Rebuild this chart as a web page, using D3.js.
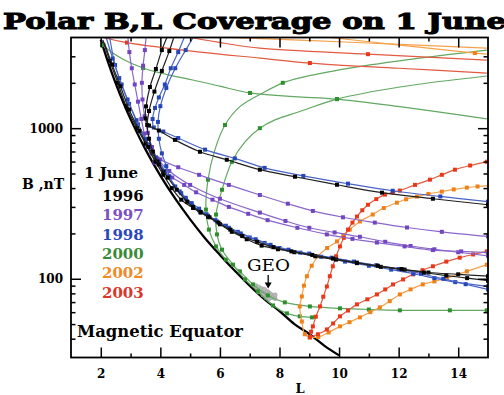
<!DOCTYPE html>
<html><head><meta charset="utf-8">
<script src="https://cdn.jsdelivr.net/npm/d3@7"></script>
<style>
html,body{margin:0;padding:0;background:#fff;}
svg{display:block;}
</style></head><body>
<svg id="chart" width="504" height="395"></svg>
<script>
// Axis tick values
const xMajor = [2, 4, 6, 8, 10, 12, 14];
const xMinor = [3, 5, 7, 9, 11, 13];
const yMajor = [100, 1000];
const yMinor = [40, 50, 60, 70, 80, 90, 200, 300, 400, 500, 600, 700, 800, 900, 2000, 3000];

// Magnetic equator (L, B in nT)
const equatorL = [2, 2.25, 2.5, 2.75, 3, 3.5, 4, 4.5, 5, 5.5, 6, 6.5, 7, 7.5, 8, 8.5, 9, 9.5, 10];
const equatorB = [3875, 2722, 1984, 1490, 1148, 723, 484, 340, 248, 186, 144, 113, 90, 73, 61, 50, 43, 36, 31];

// Orbit tracks: [L, B, marker?]  (third value 0 = no marker at that point)
// 1996
const y96a = [[4.22,4000,0],[4.05,3300],[3.85,2470],[3.65,1877],[3.52,1395],[3.5,1160],[3.62,1040],[3.95,965],[4.49,836],[5.33,697],[6.23,617],[7.34,530],[8.52,476],[9.93,421],[11.44,373],[13.15,340],[15,310]];
const y96b = [[4.45,4000,0],[4.3,3250],[4.05,2400],[3.8,1750],[3.62,1300],[3.56,1050],[3.62,850],[3.75,700],[3.9,600],[4.1,510]];
const y96c = [[2.07,3850,0],[2.3,2800],[2.57,2000],[2.85,1400],[3.22,1000],[3.5,790],[3.83,600],[4.1,490],[4.38,400],[4.7,335],[5.1,295],[5.35,275],[5.6,258],[6.0,230],[6.4,205],[6.9,183],[7.4,166],[7.95,157],[8.5,150],[9.2,141],[9.9,134],[10.6,127],[11.4,120],[12.2,115],[13.0,110],[14.0,107],[15.0,104]];
const y96d = [[2.12,3700,0],[2.38,2650],[2.66,1900],[2.95,1330],[3.3,960],[3.6,750],[3.95,575],[4.25,470],[4.55,390],[4.9,325],[5.1,300],[5.35,278],[5.65,256],[5.95,236],[6.35,212],[6.75,192],[7.25,176],[7.8,162],[8.4,152],[9.1,144],[9.8,136],[10.6,128],[11.3,122],[12.1,116],[12.85,110],[13.6,105],[14.3,101],[15.0,97]];
// 1997
const y97a = [[2.91,4000,0],[2.96,3200],[3.04,2500],[3.14,1950],[3.25,1500],[3.36,1150],[3.46,920],[3.56,760],[3.7,680],[4.0,620],[4.6,550],[5.3,490],[6.3,420],[7.34,360],[8.28,315],[9.12,282],[10.13,256],[11.2,236],[12.28,219],[13.45,205],[15,191]];
const y97b = [[3.52,4000,0],[3.48,3300],[3.42,2600],[3.38,2000],[3.4,1550],[3.47,1200],[3.58,930],[3.72,750],[3.9,630],[4.3,520],[5.0,420],[6.0,340],[7.34,275],[8.2,242],[9.0,218],[9.85,203],[10.7,190],[11.55,176],[12.4,165],[13.2,157],[14.0,150],[15,142]];
const y97c = [[3.8,590],[4.1,520],[4.4,470],[4.8,420],[5.2,375],[5.75,335],[6.3,300],[6.95,270],[7.6,245],[8.6,218],[9.59,197],[10.45,184],[11.27,174],[12.2,164],[13.15,155],[14.1,152],[15,149]];
// 1998
const y98a = [[4.8,4000,0],[4.6,3200],[4.35,2500],[4.15,1950],[3.95,1600],[3.82,1363],[3.74,1150],[3.78,1010],[4.1,950],[4.6,860],[5.5,720],[6.5,630],[7.5,545],[8.8,482],[10.3,428],[11.8,384],[13.4,352],[15,325]];
const y98b = [[5.1,4000,0],[4.85,3300],[4.5,2500],[4.2,1850],[4.0,1400],[3.92,1100],[3.95,850],[4.05,680],[4.2,560],[4.3,480]];
const y98c = [[2.3,4000,0],[2.48,2625],[2.7,1950],[2.95,1450],[3.25,1060],[3.6,780],[3.95,600],[4.3,470],[4.65,380],[4.85,345],[5.05,318],[5.3,292],[5.55,268],[5.85,245],[6.2,225],[6.6,205],[7.0,188],[7.5,173],[8.0,160],[8.7,149],[9.4,140],[10.2,130],[11.0,122],[11.75,115],[12.5,108],[13.2,101],[13.9,95],[15,89]];
const y98d = [[2.18,4000,0],[2.4,2900],[2.62,2150],[2.9,1550],[3.2,1130],[3.5,850],[3.85,640],[4.15,520],[4.5,410],[4.7,370],[4.85,340],[5.05,310],[5.3,285],[5.6,262],[5.9,240],[6.3,218],[6.7,200],[7.2,183],[7.7,168],[8.3,156],[9.0,147],[9.75,138],[10.5,130],[11.25,123],[12.0,116],[12.75,108],[13.5,100],[14.25,92],[15,85]];
// 2000
const y00a = [[2.04,3565],[2.7,2900,0],[3.42,2507],[4.3,2250,0],[5.09,2089,0],[6.0,1900,0],[7.01,1713],[8.5,1620,0],[9.93,1560],[12.04,1390,0],[13.5,1270,0],[14.96,1152,0]];
const y00b = [[14.96,3301,0],[12.71,2921,0],[10.36,2507,0],[8.68,2160,0],[8.11,2000],[7.51,1745,0],[6.67,1390,0],[6.17,1050],[5.83,718,0],[5.6,455],[5.53,288],[5.63,212],[5.87,164],[6.2,134],[6.67,112],[7.11,91.7],[7.61,77.5],[8.18,69.7],[9.02,65.5],[10.03,63.6],[11.0,62.5],[12.04,61.7],[13.72,61.7],[14.96,61.7]];
const y00c = [[14.96,2220,0],[12.04,1877,0],[9.93,1560],[8.68,1290,0],[7.85,1135,0],[7.34,1000],[6.84,812,0],[6.4,598],[6.07,390],[5.87,267],[5.9,197],[6.07,156],[6.44,124],[6.84,99],[7.27,82.4],[7.78,66.5],[8.25,58.9],[8.68,56.3],[9.09,55.4]];
// 2002
const y02a = [[9.02,40.9],[8.85,42.8],[8.75,52],[8.68,65.5],[8.75,76.3],[8.82,90],[8.92,104],[9.08,122],[9.29,141],[9.6,160],[9.93,177],[10.14,195],[10.36,212],[10.7,240],[11.13,267],[11.5,295],[11.94,320],[12.25,337],[12.61,351],[13.0,366],[13.45,379],[13.85,392],[14.29,403],[14.65,410],[15,415,0]];
const y02b = [[9.02,40.9],[9.3,41],[9.65,44],[10.03,48.3],[10.35,51.5],[10.7,55.4],[11.05,60],[11.37,64.6],[11.7,71],[12.04,78.7],[12.4,85],[12.81,91.7],[13.2,96],[13.62,101],[14.29,112],[14.96,124]];
const y02c = [[6.34,4000,0],[8.68,3845,0],[12.04,3600,0],[14.96,3404,0]];
const y02d = [[9.69,4000,0],[12.04,3565,0],[14.56,3153],[14.96,3100,0]];
// 2003
const y03a = [[9.02,40.9],[9.06,44.5],[9.12,48.3],[9.22,56],[9.36,65.5],[9.47,76],[9.59,88.9],[9.69,104],[9.79,121],[9.9,141],[10.03,164],[10.16,187],[10.3,212],[10.45,236],[10.6,259],[10.78,285],[10.97,310],[11.25,338],[11.54,362],[11.8,375],[12.04,385],[12.55,420],[13.05,455],[13.45,490],[13.89,530],[14.4,565],[14.96,598]];
const y03b = [[9.02,40.9],[9.29,42.8],[9.59,46.1],[9.8,50.5],[10.03,56.3],[10.3,61.5],[10.6,67.6],[10.95,73],[11.27,78.7],[11.55,85],[11.81,91.7],[12.15,99],[12.48,107],[12.8,114],[13.15,121],[13.6,130],[14.05,138],[14.5,145],[14.96,152]];
const y03c = [[5.0,4000,0],[6.2,3650,0],[7.34,3404,0],[10.97,3100],[14.96,2834,0]];
const y03d = [[2.07,4000,0],[2.88,3700],[5.33,3200,0],[7.34,2921,0],[9.02,2707],[12,2500,0],[14.96,2323,0]];

// Geosynchronous orbit region
const geoL = [7.2,7.25,7.3,7.35,7.4,7.4,7.45,7.5,7.5,7.55,7.6,7.6,7.65,7.7,7.7,7.75,7.8,7.85,7.3,7.45,7.55,7.65,7.85];
const geoB = [90,86,88,84,86,81,83,80,85,78,82,77,80,76,79,75,77,74,82,78,75,74,78];
const geoArrowL = [7.62, 7.62];
const geoArrowB = [106, 86];

// Legend entries
const years = ["1996", "1997", "1998", "2000", "2002", "2003"];

const style = {
  "1996": {line: "#222", mark: "#000", text: "#000"},
  "1997": {line: "#8a66cc", mark: "#7246c0", text: "#7a50c2"},
  "1998": {line: "#4a64c8", mark: "#2446b8", text: "#2a48bc"},
  "2000": {line: "#62a862", mark: "#2f8f2f", text: "#3a8a3a"},
  "2002": {line: "#f4a24a", mark: "#f08018", text: "#f08a28"},
  "2003": {line: "#e25a40", mark: "#e8381a", text: "#d8382a"}
};

const trackSets = [
  {year: "2000", tracks: [y00a, y00b, y00c]},
  {year: "2002", tracks: [y02a, y02b, y02c, y02d]},
  {year: "2003", tracks: [y03a, y03b, y03c, y03d]},
  {year: "1997", tracks: [y97a, y97b, y97c]},
  {year: "1998", tracks: [y98a, y98b, y98c, y98d]},
  {year: "1996", tracks: [y96a, y96b, y96c, y96d]}
];

const svg = d3.select("#chart");
const x = d3.scaleLinear().domain([1, 15]).range([71, 488]);
const y = d3.scaleLog().domain([30, 4000]).range([357.5, 37.5]);

svg.append("defs").append("clipPath").attr("id", "plotClip")
  .append("rect").attr("x", 71).attr("y", 37.5).attr("width", 417).attr("height", 320);

const plot = svg.append("g").attr("clip-path", "url(#plotClip)");

// Magnetic equator
const eqPts = equatorL.map((l, i) => [l, equatorB[i]]);
const line = d3.line().x(d => x(d[0])).y(d => y(d[1])).curve(d3.curveCatmullRom.alpha(0.5));
plot.append("path").attr("d", line(eqPts)).attr("fill", "none")
  .attr("stroke", "#000").attr("stroke-width", 2.3);

// GEO cloud
plot.selectAll("circle.geo").data(geoL.map((l, i) => [l, geoB[i]])).enter()
  .append("circle").attr("class", "geo")
  .attr("cx", d => x(d[0])).attr("cy", d => y(d[1])).attr("r", 2.2)
  .attr("fill", "#b8b8b8").attr("stroke", "#999").attr("stroke-width", 0.5);

// Orbit tracks
trackSets.forEach(set => {
  const st = style[set.year];
  set.tracks.forEach(tr => {
    plot.append("path").attr("d", line(tr)).attr("fill", "none")
      .attr("stroke", st.line).attr("stroke-width", 1.2);
    plot.selectAll(null).data(tr.filter(p => p[2] !== 0)).enter()
      .append("rect")
      .attr("x", d => x(d[0]) - 2).attr("y", d => y(d[1]) - 2)
      .attr("width", 4).attr("height", 4).attr("fill", st.mark);
  });
});

// Axes with inward ticks
function styleAxis(g) {
  g.selectAll("path.domain").remove();
  g.selectAll("line").attr("stroke", "#000").attr("stroke-width", 1.5);
  g.selectAll("text").attr("font-family", "'DejaVu Serif', serif")
    .attr("font-weight", "bold").attr("font-size", 12).attr("fill", "#000");
}
svg.append("g").attr("transform", "translate(0,357.5)")
  .call(d3.axisBottom(x).tickValues(xMajor).tickSize(-10).tickPadding(12).tickFormat(d3.format("d"))).call(styleAxis);
svg.append("g").attr("transform", "translate(0,357.5)")
  .call(d3.axisBottom(x).tickValues(xMinor).tickSize(-4).tickFormat("")).call(styleAxis);
svg.append("g").attr("transform", "translate(0,37.5)")
  .call(d3.axisTop(x).tickValues(xMajor).tickSize(-10).tickFormat("")).call(styleAxis);
svg.append("g").attr("transform", "translate(0,37.5)")
  .call(d3.axisTop(x).tickValues(xMinor).tickSize(-4).tickFormat("")).call(styleAxis);
svg.append("g").attr("transform", "translate(71,0)")
  .call(d3.axisLeft(y).tickValues(yMajor).tickSize(-10).tickPadding(8).tickFormat(d3.format("d"))).call(styleAxis);
svg.append("g").attr("transform", "translate(71,0)")
  .call(d3.axisLeft(y).tickValues(yMinor).tickSize(-4.5).tickFormat("")).call(styleAxis);
svg.append("g").attr("transform", "translate(488,0)")
  .call(d3.axisRight(y).tickValues(yMajor).tickSize(-10).tickFormat("")).call(styleAxis);
svg.append("g").attr("transform", "translate(488,0)")
  .call(d3.axisRight(y).tickValues(yMinor).tickSize(-4.5).tickFormat("")).call(styleAxis);

// Frame
svg.append("rect").attr("x", 71).attr("y", 37.5).attr("width", 417).attr("height", 320)
  .attr("fill", "none").attr("stroke", "#000").attr("stroke-width", 1.8);

// Title
svg.append("text").attr("x", 3).attr("y", 29)
  .attr("font-family", "'DejaVu Serif', serif").attr("font-weight", "bold").attr("font-size", 23)
  .attr("textLength", 503).attr("lengthAdjust", "spacingAndGlyphs")
  .attr("stroke", "#000").attr("stroke-width", 1.1).attr("fill", "#000")
  .text("Polar B,L Coverage on 1 June");

// Axis titles
svg.append("text").attr("x", 22).attr("y", 189)
  .attr("font-family", "'DejaVu Serif', serif").attr("font-weight", "bold").attr("font-size", 14)
  .text("B ,nT");
svg.append("text").attr("x", 300).attr("y", 393).attr("text-anchor", "middle")
  .attr("font-family", "'DejaVu Serif', serif").attr("font-weight", "bold").attr("font-size", 13)
  .text("L");

// Legend
const lg = svg.append("g").attr("font-family", "'DejaVu Serif', serif").attr("font-weight", "bold").attr("font-size", 15);
lg.append("text").attr("x", 84).attr("y", 178).attr("fill", "#000").text("1 June");
years.forEach((yr, i) => {
  lg.append("text").attr("x", 102).attr("y", 201 + i * 19.3).attr("fill", style[yr].text).text(yr);
});

// Magnetic equator label
svg.append("text").attr("x", 77).attr("y", 337)
  .attr("font-family", "'DejaVu Serif', serif").attr("font-weight", "bold").attr("font-size", 16)
  .attr("textLength", 166).attr("lengthAdjust", "spacingAndGlyphs")
  .text("Magnetic Equator");

// GEO label and arrow
const ax = x(geoArrowL[0]);
svg.append("text").attr("x", 247).attr("y", 271)
  .attr("font-family", "'DejaVu Serif', serif").attr("font-size", 16.5)
  .attr("textLength", 43).attr("lengthAdjust", "spacingAndGlyphs").text("GEO");
svg.append("line").attr("x1", ax).attr("x2", ax).attr("y1", y(geoArrowB[0])).attr("y2", y(geoArrowB[1]) - 4)
  .attr("stroke", "#000").attr("stroke-width", 1.3);
svg.append("path")
  .attr("d", `M${ax - 3.5},${y(geoArrowB[1]) - 6} L${ax + 3.5},${y(geoArrowB[1]) - 6} L${ax},${y(geoArrowB[1])} Z`)
  .attr("fill", "#000");
</script>
</body></html>
